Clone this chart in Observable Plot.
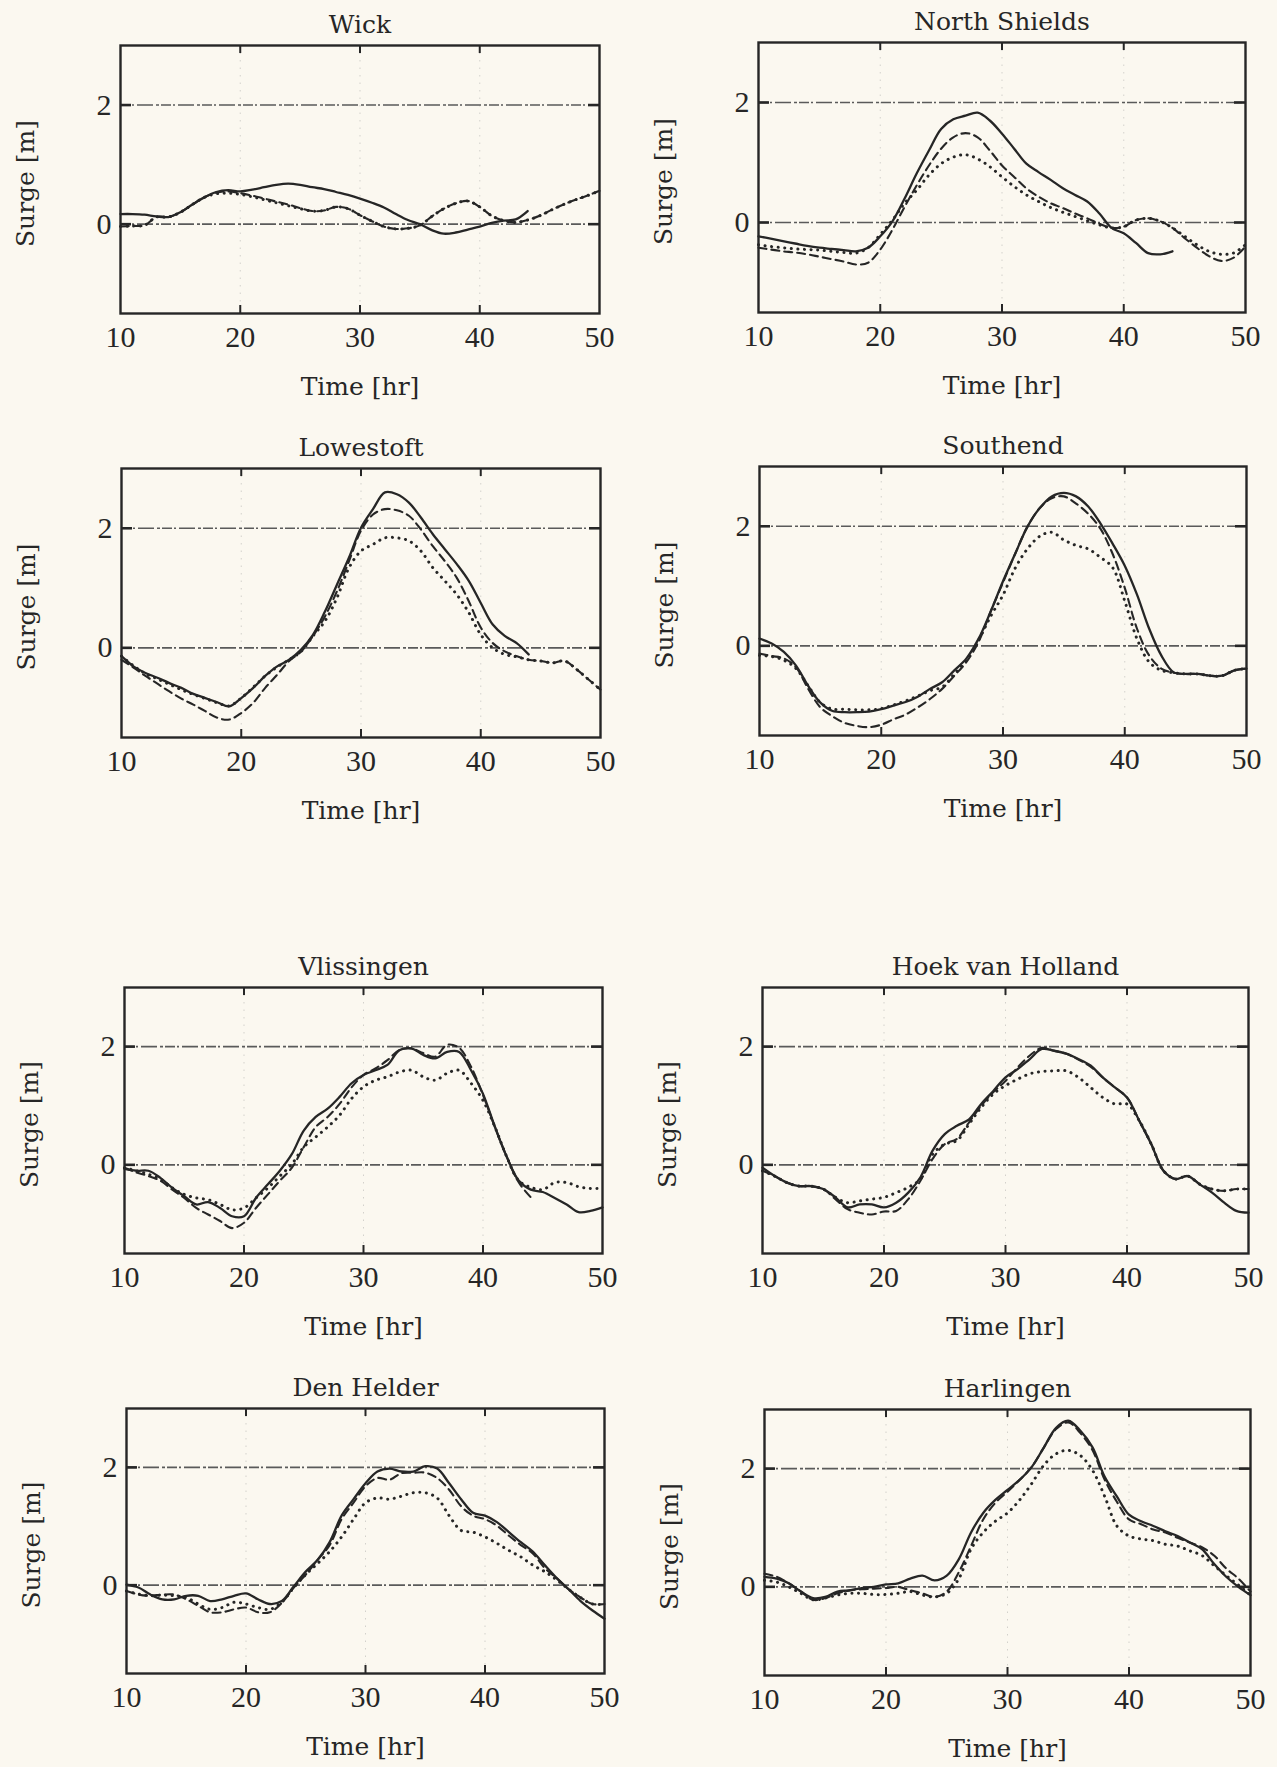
<!DOCTYPE html>
<html>
<head>
<meta charset="utf-8">
<script src="https://cdn.jsdelivr.net/npm/d3@7"></script>
<script src="https://cdn.jsdelivr.net/npm/@observablehq/plot@0.6"></script>
<style>
  html, body { margin: 0; padding: 0; background: #fbf8f0; }
  #page { position: relative; width: 1277px; height: 1767px; overflow: hidden; background: #fbf8f0; }
  #page svg { position: absolute; }
</style>
</head>
<body>
<div id="page"></div>
<script>
// ---------- data ----------
const hours = [10,11,12,13,14,15,16,17,18,19,20,21,22,23,24,25,26,27,28,29,30,31,32,33,34,35,36,37,38,39,40,41,42,43,44,45,46,47,48,49,50];
const xTickValues = [10, 20, 30, 40, 50];
const innerXTicks = [20, 30, 40];
const yTickValues = [0, 2];
const stationNames = ["Wick", "North Shields", "Lowestoft", "Southend", "Vlissingen", "Hoek van Holland", "Den Helder", "Harlingen"];
const xLabel = "Time [hr]";
const yLabel = "Surge [m]";

const wickSolid   = [0.17,0.17,0.16,0.13,0.12,0.2,0.33,0.45,0.54,0.57,0.55,0.58,0.62,0.66,0.68,0.66,0.62,0.59,0.54,0.49,0.43,0.36,0.28,0.17,0.07,0.0,-0.1,-0.16,-0.14,-0.09,-0.04,0.02,0.06,0.08,0.22,null,null,null,null,null,null];
const wickDashed  = [-0.04,-0.03,-0.02,0.12,0.12,0.2,0.33,0.45,0.53,0.55,0.52,0.48,0.43,0.38,0.33,0.27,0.22,0.23,0.29,0.26,0.15,0.05,-0.04,-0.08,-0.07,-0.02,0.13,0.26,0.35,0.39,0.29,0.14,0.06,0.03,0.07,0.14,0.24,0.33,0.41,0.48,0.56];
const wickDotted  = [-0.04,-0.03,-0.02,0.12,0.12,0.2,0.33,0.45,0.51,0.52,0.5,0.46,0.41,0.36,0.31,0.26,0.22,0.23,0.29,0.26,0.15,0.05,-0.04,-0.08,-0.07,-0.02,0.13,0.26,0.35,0.39,0.29,0.14,0.06,0.03,0.07,0.14,0.24,0.33,0.41,0.48,0.56];

const northShieldsSolid  = [-0.23,-0.27,-0.31,-0.35,-0.39,-0.42,-0.44,-0.46,-0.48,-0.42,-0.23,0.02,0.4,0.82,1.2,1.56,1.72,1.78,1.83,1.7,1.48,1.23,0.98,0.84,0.71,0.57,0.46,0.35,0.15,-0.09,-0.18,-0.34,-0.51,-0.53,-0.48,null,null,null,null,null,null];
const northShieldsDashed = [-0.42,-0.45,-0.48,-0.5,-0.53,-0.57,-0.61,-0.65,-0.7,-0.67,-0.45,-0.12,0.26,0.62,0.95,1.23,1.42,1.49,1.42,1.2,0.95,0.76,0.57,0.43,0.32,0.24,0.15,0.07,-0.02,-0.09,-0.07,0.04,0.07,0.02,-0.09,-0.26,-0.42,-0.56,-0.64,-0.59,-0.4];
const northShieldsDotted = [-0.37,-0.4,-0.42,-0.44,-0.45,-0.46,-0.48,-0.5,-0.51,-0.42,-0.2,0.04,0.32,0.54,0.79,0.98,1.09,1.13,1.06,0.93,0.76,0.6,0.46,0.35,0.25,0.17,0.1,0.03,-0.04,-0.09,-0.07,0.04,0.07,0.02,-0.09,-0.23,-0.37,-0.48,-0.53,-0.51,-0.37];

const lowestoftSolid  = [-0.14,-0.31,-0.42,-0.5,-0.59,-0.67,-0.77,-0.84,-0.91,-0.98,-0.84,-0.67,-0.47,-0.31,-0.2,-0.03,0.22,0.61,1.06,1.51,2.01,2.32,2.6,2.57,2.43,2.18,1.9,1.65,1.4,1.12,0.75,0.39,0.2,0.08,-0.11,null,null,null,null,null,null];
const lowestoftDashed = [-0.2,-0.33,-0.47,-0.6,-0.73,-0.85,-0.95,-1.06,-1.17,-1.2,-1.09,-0.92,-0.67,-0.45,-0.22,-0.06,0.2,0.53,0.95,1.45,1.96,2.23,2.32,2.3,2.21,1.98,1.7,1.45,1.17,0.78,0.34,0.08,-0.06,-0.14,-0.2,-0.22,-0.25,-0.22,-0.36,-0.53,-0.7];
const lowestoftDotted = [-0.14,-0.3,-0.43,-0.52,-0.61,-0.7,-0.78,-0.85,-0.92,-0.97,-0.84,-0.66,-0.47,-0.32,-0.2,-0.06,0.2,0.45,0.84,1.34,1.62,1.73,1.84,1.84,1.79,1.62,1.34,1.12,0.89,0.59,0.22,0.0,-0.11,-0.15,-0.2,-0.22,-0.25,-0.22,-0.36,-0.53,-0.7];

const southendSolid  = [0.12,0.04,-0.1,-0.33,-0.67,-0.95,-1.09,-1.11,-1.11,-1.1,-1.06,-1.0,-0.94,-0.85,-0.72,-0.61,-0.41,-0.21,0.12,0.58,1.08,1.54,1.99,2.3,2.5,2.56,2.5,2.33,2.05,1.71,1.34,0.86,0.29,-0.16,-0.44,-0.47,-0.47,-0.5,-0.5,-0.41,-0.38];
const southendDashed = [-0.13,-0.17,-0.21,-0.36,-0.72,-1.03,-1.18,-1.29,-1.34,-1.36,-1.32,-1.23,-1.15,-1.03,-0.89,-0.72,-0.5,-0.27,0.07,0.58,1.06,1.54,1.99,2.3,2.47,2.5,2.38,2.21,1.96,1.54,0.97,0.29,-0.16,-0.38,-0.45,-0.47,-0.47,-0.5,-0.5,-0.41,-0.38];
const southendDotted = [-0.16,-0.18,-0.24,-0.38,-0.67,-0.95,-1.06,-1.06,-1.07,-1.07,-1.05,-0.99,-0.92,-0.84,-0.75,-0.69,-0.47,-0.24,0.1,0.5,0.85,1.3,1.62,1.83,1.9,1.77,1.68,1.62,1.48,1.31,0.75,0.12,-0.27,-0.41,-0.45,-0.47,-0.47,-0.5,-0.5,-0.41,-0.38];

const vlissingenSolid  = [-0.07,-0.1,-0.1,-0.22,-0.39,-0.53,-0.67,-0.63,-0.73,-0.87,-0.87,-0.56,-0.33,-0.1,0.18,0.58,0.81,0.95,1.15,1.38,1.52,1.6,1.69,1.94,1.97,1.86,1.8,1.91,1.91,1.6,1.2,0.64,0.13,-0.27,-0.42,-0.46,-0.56,-0.67,-0.8,-0.78,-0.72];
const vlissingenDashed = [-0.05,-0.13,-0.19,-0.27,-0.42,-0.56,-0.73,-0.84,-0.95,-1.07,-0.98,-0.73,-0.5,-0.27,-0.05,0.3,0.64,0.81,1.03,1.31,1.52,1.63,1.77,1.94,1.97,1.89,1.83,2.03,1.98,1.66,1.18,0.64,0.13,-0.3,-0.55,null,null,null,null,null,null];
const vlissingenDotted = [-0.05,-0.1,-0.16,-0.24,-0.39,-0.5,-0.56,-0.59,-0.67,-0.76,-0.73,-0.56,-0.39,-0.19,0.01,0.3,0.47,0.64,0.84,1.12,1.32,1.43,1.49,1.57,1.6,1.49,1.43,1.55,1.6,1.38,1.09,0.64,0.13,-0.27,-0.38,-0.42,-0.3,-0.3,-0.37,-0.4,-0.4];

const hoekSolid  = [-0.05,-0.19,-0.3,-0.36,-0.36,-0.41,-0.55,-0.72,-0.67,-0.67,-0.72,-0.64,-0.47,-0.21,0.24,0.52,0.66,0.77,1.03,1.25,1.48,1.62,1.79,1.96,1.93,1.88,1.79,1.68,1.48,1.31,1.14,0.75,0.35,-0.1,-0.24,-0.19,-0.33,-0.47,-0.64,-0.78,-0.81];
const hoekDashed = [-0.1,-0.19,-0.3,-0.36,-0.36,-0.41,-0.58,-0.75,-0.81,-0.84,-0.79,-0.78,-0.58,-0.27,0.1,0.35,0.44,0.72,1.0,1.23,1.42,1.65,1.85,1.98,1.93,1.88,1.78,1.66,1.48,1.31,1.14,0.75,0.35,-0.1,-0.24,-0.19,-0.33,-0.41,-0.44,-0.41,-0.41];
const hoekDotted = [-0.1,-0.19,-0.3,-0.36,-0.36,-0.41,-0.55,-0.64,-0.61,-0.58,-0.55,-0.47,-0.38,-0.24,0.18,0.35,0.41,0.69,0.97,1.2,1.34,1.45,1.54,1.58,1.59,1.59,1.48,1.31,1.14,1.03,1.03,0.75,0.35,-0.1,-0.24,-0.19,-0.33,-0.41,-0.44,-0.41,-0.41];

const denHelderSolid  = [0.01,-0.04,-0.16,-0.24,-0.24,-0.18,-0.18,-0.27,-0.24,-0.18,-0.14,-0.24,-0.32,-0.27,-0.02,0.23,0.43,0.73,1.18,1.46,1.73,1.93,1.98,1.93,1.93,2.02,1.98,1.73,1.46,1.23,1.18,1.07,0.9,0.73,0.57,0.34,0.12,-0.07,-0.27,-0.43,-0.57];
const denHelderDashed = [-0.1,-0.16,-0.18,-0.16,-0.16,-0.24,-0.35,-0.46,-0.46,-0.41,-0.38,-0.46,-0.46,-0.3,-0.04,0.18,0.43,0.68,1.12,1.4,1.68,1.82,1.79,1.9,1.91,1.91,1.82,1.62,1.34,1.18,1.12,1.01,0.84,0.68,0.54,0.29,0.12,-0.07,-0.21,-0.32,-0.32];
const denHelderDotted = [-0.1,-0.15,-0.18,-0.17,-0.18,-0.21,-0.32,-0.41,-0.38,-0.29,-0.32,-0.38,-0.41,-0.29,-0.04,0.18,0.37,0.57,0.82,1.12,1.4,1.48,1.46,1.51,1.57,1.57,1.48,1.18,0.93,0.9,0.82,0.71,0.59,0.48,0.34,0.23,0.09,-0.07,-0.21,-0.32,-0.32];

const harlingenSolid  = [0.17,0.14,0.06,-0.08,-0.19,-0.17,-0.08,-0.06,-0.02,0.0,0.04,0.06,0.14,0.19,0.11,0.19,0.47,0.92,1.25,1.47,1.64,1.81,2.03,2.36,2.69,2.81,2.64,2.36,1.86,1.53,1.22,1.11,1.03,0.94,0.86,0.75,0.64,0.39,0.17,0.0,-0.14];
const harlingenDashed = [0.22,0.17,0.06,-0.08,-0.22,-0.19,-0.11,-0.06,-0.04,-0.03,-0.02,0.0,-0.06,-0.11,-0.17,-0.08,0.25,0.69,1.14,1.42,1.61,1.81,2.03,2.36,2.67,2.78,2.6,2.31,1.81,1.44,1.14,1.06,0.97,0.92,0.83,0.75,0.67,0.53,0.31,0.14,-0.08];
const harlingenDotted = [0.11,0.08,0.0,-0.11,-0.22,-0.19,-0.14,-0.11,-0.11,-0.13,-0.13,-0.11,-0.08,-0.14,-0.17,-0.11,0.14,0.64,0.92,1.11,1.25,1.47,1.75,2.06,2.25,2.31,2.22,1.97,1.53,1.03,0.86,0.81,0.78,0.72,0.69,0.61,0.53,0.36,0.19,0.03,-0.14];

const solidSeries  = [wickSolid, northShieldsSolid, lowestoftSolid, southendSolid, vlissingenSolid, hoekSolid, denHelderSolid, harlingenSolid];
const dashedSeries = [wickDashed, northShieldsDashed, lowestoftDashed, southendDashed, vlissingenDashed, hoekDashed, denHelderDashed, harlingenDashed];
const dottedSeries = [wickDotted, northShieldsDotted, lowestoftDotted, southendDotted, vlissingenDotted, hoekDotted, denHelderDotted, harlingenDotted];

// ---------- layout (frame rectangles in page pixels: left, top, right, bottom) ----------
const frames = [
  [120, 45, 599, 313], [758, 42, 1245, 312],
  [121, 468, 600, 737], [759, 466, 1246, 735],
  [124, 987, 602, 1253], [762, 987, 1248, 1253],
  [126, 1408, 604, 1673], [764, 1409, 1250, 1675]
];
const yDomain = [-1.5, 3];
const xDomain = [10, 50];
const ink = "#262626";
const tickFont = "'Liberation Serif', 'DejaVu Serif', serif";
const labelFont = "'DejaVu Serif', 'Liberation Serif', serif";

const page = document.getElementById("page");

function rowsOf(values) {
  const out = [];
  hours.forEach((h, j) => { if (values[j] != null) out.push({t: h, v: values[j]}); });
  return out;
}

stationNames.forEach((name, i) => {
  const [fl, ft, fr, fb] = frames[i];
  const mL = 120, mR = 25, mT = 50, mB = 95;
  const fw = fr - fl, fh = fb - ft;
  const tickLen = 8;
  const chart = Plot.plot({
    width: fw + mL + mR,
    height: fh + mT + mB,
    marginLeft: mL, marginRight: mR, marginTop: mT, marginBottom: mB,
    style: {background: "transparent", overflow: "visible", fontFamily: tickFont, color: ink, maxWidth: "none"},
    x: {domain: xDomain, axis: null},
    y: {domain: yDomain, axis: null},
    marks: [
      Plot.ruleX(innerXTicks, {stroke: "#8a8a8a", strokeOpacity: 0.35, strokeWidth: 1, strokeDasharray: "1.5 6"}),
      Plot.ruleY(yTickValues, {stroke: "#5a5a5a", strokeWidth: 1.6, strokeDasharray: "10 2 2 3 16 3 3 2"}),
      Plot.line(rowsOf(dottedSeries[i]), {x: "t", y: "v", stroke: ink, strokeWidth: 3, strokeDasharray: "0.1 6.5", strokeLinecap: "round", curve: "catmull-rom"}),
      Plot.line(rowsOf(dashedSeries[i]), {x: "t", y: "v", stroke: ink, strokeWidth: 2.1, strokeDasharray: "8 5", curve: "catmull-rom"}),
      Plot.line(rowsOf(solidSeries[i]), {x: "t", y: "v", stroke: ink, strokeWidth: 2.3, curve: "catmull-rom"}),
      Plot.frame({stroke: ink, strokeWidth: 2.4}),
      Plot.ruleX(innerXTicks, {stroke: ink, strokeWidth: 2, insetTop: fh - tickLen}),
      Plot.ruleX(innerXTicks, {stroke: ink, strokeWidth: 2, insetBottom: fh - tickLen}),
      Plot.ruleY(yTickValues, {stroke: ink, strokeWidth: 2.6, insetRight: fw - 11}),
      Plot.ruleY(yTickValues, {stroke: ink, strokeWidth: 2.6, insetLeft: fw - 11}),
      Plot.axisX(xTickValues, {tickSize: 0, tickPadding: 12, fontSize: 30, fill: ink, label: null, tickFormat: d3.format("d")}),
      Plot.axisY(yTickValues, {tickSize: 0, tickPadding: 9, fontSize: 30, fill: ink, label: null, tickFormat: d3.format("d")}),
      Plot.text([name], {frameAnchor: "top", lineAnchor: "middle", textAnchor: "middle", dy: -21, fontSize: 25, fontFamily: labelFont, fill: ink}),
      Plot.text([yLabel], {frameAnchor: "left", lineAnchor: "middle", textAnchor: "middle", rotate: -90, dx: -95, dy: 4, fontSize: 25, fontFamily: labelFont, fill: ink}),
      Plot.text([xLabel], {frameAnchor: "bottom", lineAnchor: "middle", textAnchor: "middle", dy: 73, fontSize: 25, fontFamily: labelFont, fill: ink})
    ]
  });
  chart.style.left = (fl - mL) + "px";
  chart.style.top = (ft - mT) + "px";
  page.appendChild(chart);
});
</script>
</body>
</html>
